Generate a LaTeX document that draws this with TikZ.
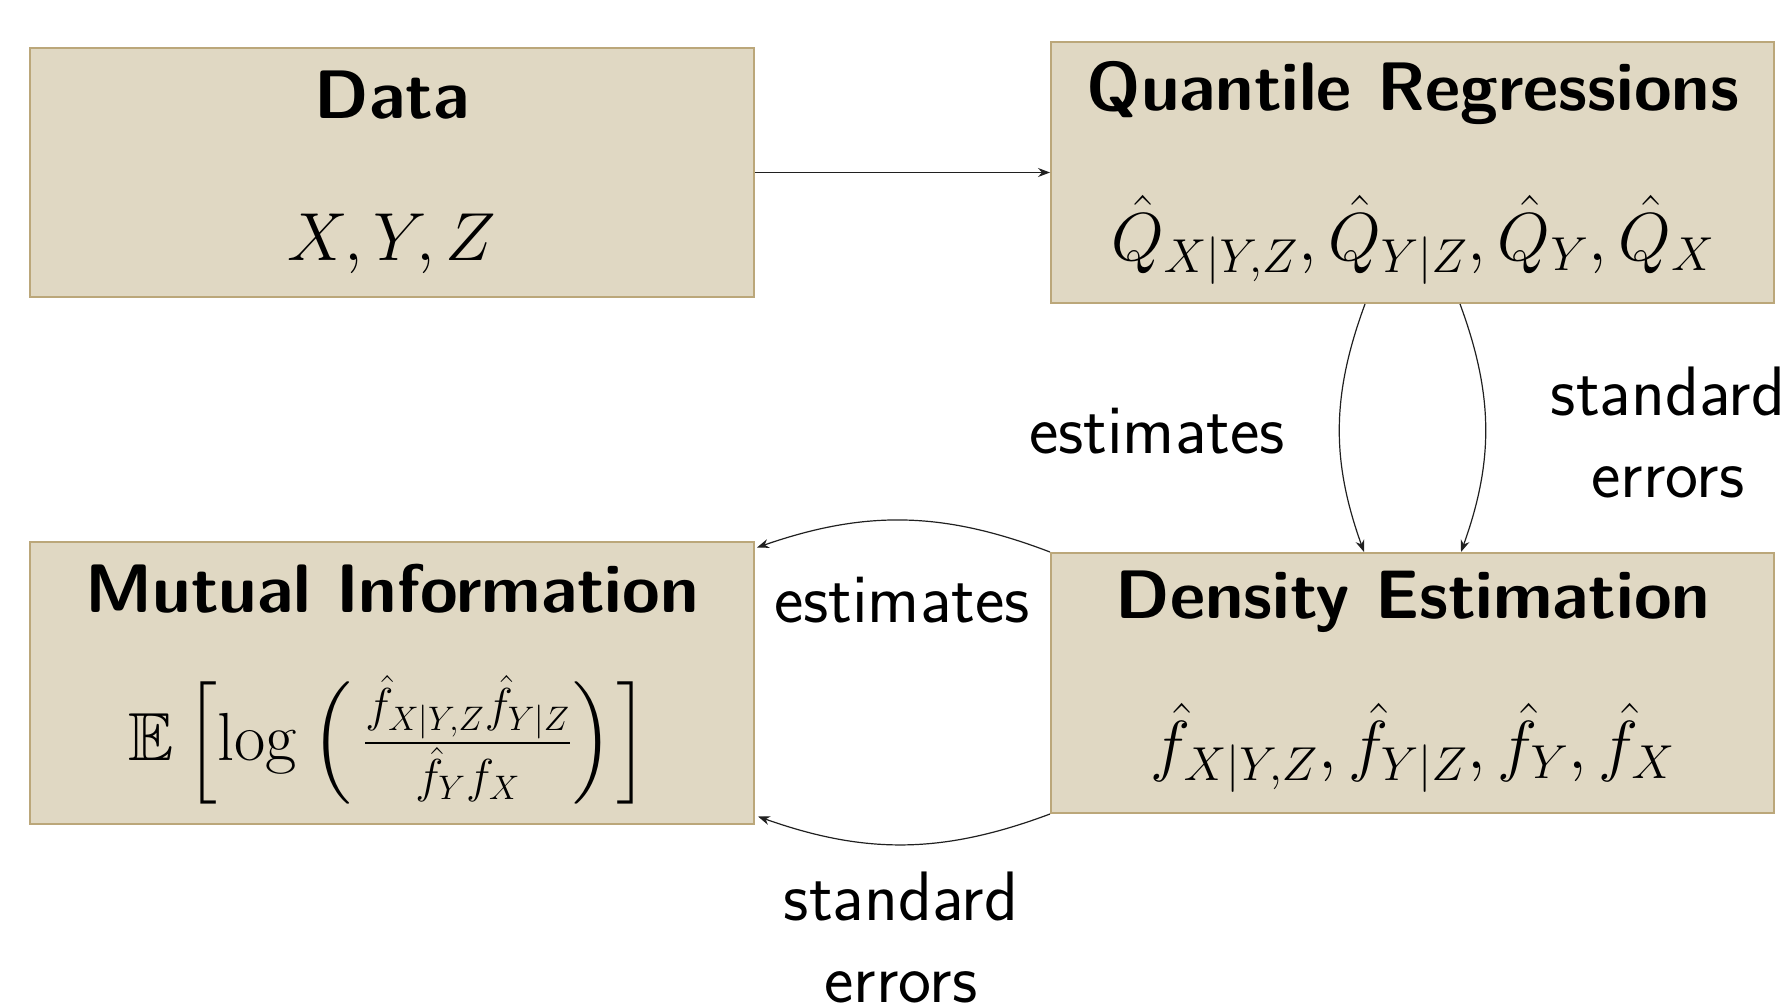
\RequirePackage{fix-cm}
\documentclass[tikz,border=0pt]{standalone}
\usepackage{amsmath,amssymb}
\DeclareFontFamily{U}{msb}{}
\DeclareFontShape{U}{msb}{m}{n}{<-6> msbm5 <6-8> msbm7 <8-> msbm10}{}
\usetikzlibrary{arrows.meta,calc}
\definecolor{boxfill}{HTML}{E0D8C3}
\definecolor{boxline}{HTML}{BBA77A}
\definecolor{arr}{HTML}{202020}
\begin{document}
\begin{tikzpicture}[x=0.5pt,y=-0.5pt,
  box/.style={draw=boxline,fill=boxfill,line width=1pt,rectangle,inner sep=0pt},
  ttl/.style={font=\fontsize{34.3}{40}\selectfont\sffamily\bfseries,inner sep=0pt},
  mth/.style={font=\fontsize{34}{40}\selectfont,inner sep=0pt},
  lbl/.style={font=\fontsize{35}{41}\selectfont\sffamily,align=center,inner sep=0pt},
  conn/.style={draw=arr,line width=0.6pt,-{Stealth[length=6pt,width=4.5pt]}}]
\useasboundingbox (0,0) rectangle (1791,1006);
% boxes
\node[box,minimum width=362pt,minimum height=124.5pt] (D) at (392,172.5) {};
\node[box,minimum width=361.5pt,minimum height=130.5pt] (Q) at (1412.5,172.5) {};
\node[box,minimum width=362pt,minimum height=141pt] (M) at (392,682.5) {};
\node[box,minimum width=361.5pt,minimum height=130pt] (E) at (1412.5,683) {};
% texts
\node[ttl] (Dt) at (392,95) {Data};
\node[mth] (Dm) at (392,244) {$X,Y,Z$};
\node[ttl] (Qt) at (1413,93) {Quantile Regressions};
\node[mth] (Qm) at (1413,240) {$\hat{Q}_{X|Y,Z},\hat{Q}_{Y|Z},\hat{Q}_{Y},\hat{Q}_{X}$};
\node[ttl] (Mt) at (392,589) {Mutual Information};
\node[mth] (Mm) at (389,740) {$\mathbb{E}\,\Bigl[\log\mkern3.5mu\Bigl(\mkern3mu\frac{\hat f_{X|Y,Z}\hat f_{Y|Z}}{\hat f_Y f_X}\Bigr)\mkern1mu\Bigr]$};
\node[ttl] (Et) at (1413,602) {Density Estimation};
\node[mth] (Em) at (1413,748) {$\hat f_{X|Y,Z},\hat f_{Y|Z},\hat f_{Y},\hat f_{X}$};
% labels
\node[lbl] (l1) at (1157,431) {estimates};
\node[lbl] (l2) at (1668,432) {standard\\errors};
\node[lbl] (l3) at (902,600) {estimates};
\node[lbl] (l4) at (901,937) {standard\\errors};
% connectors
\draw[conn] (D.east) -- (Q.west);
\draw[conn] ($(Q.south)+(-47.5,0)$) to[bend right=20] ($(E.north)+(-48.5,0)$);
\draw[conn] ($(Q.south)+(47.5,0)$) to[bend left=20] ($(E.north)+(48.5,0)$);
\draw[conn] (E.north west) to[bend right=20] ($(M.north east)+(2,7)$);
\draw[conn] (E.south west) to[bend left=20] ($(M.south east)+(3,-8)$);
\end{tikzpicture}
\end{document}
